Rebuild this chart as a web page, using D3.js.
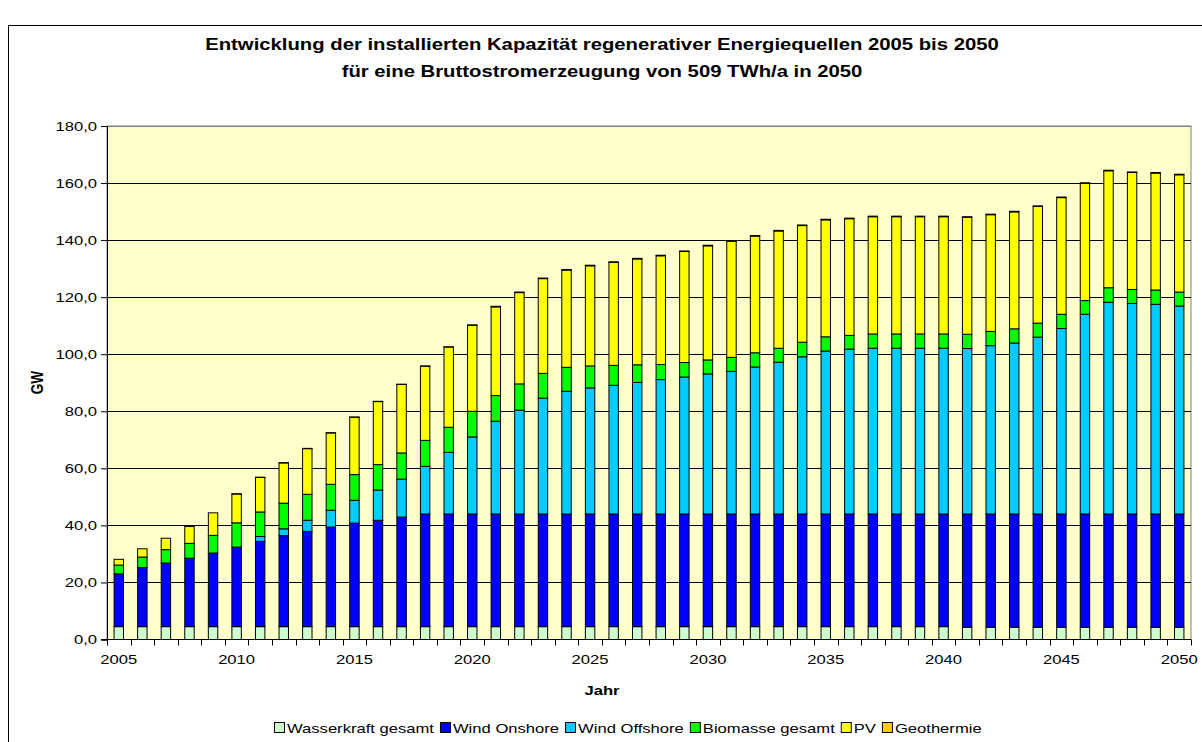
<!DOCTYPE html>
<html>
<head>
<meta charset="utf-8">
<script src="https://cdn.jsdelivr.net/npm/d3@7"></script>
<style>
  body { margin: 0; background: #fff; }
  svg { display: block; font-family: "Liberation Sans", Arial, sans-serif; }
</style>
</head>
<body>
<svg id="chart" width="1202" height="742"></svg>
<script>
// years 2005..2050
const years = d3.range(2005, 2051);

// segment values in GW
const wasserkraft = years.map((y) => (y <= 2040 ? 4.5 : 4.3));
const windOnshore = [
  18.5, 20.7, 22.3, 24.0, 25.8, 27.9, 29.9, 31.9, 33.4, 34.9,
  36.3, 37.3, 38.4, 39.5, 39.5, 39.5, 39.5, 39.5, 39.5, 39.5,
  39.5, 39.5, 39.5, 39.5, 39.5, 39.5, 39.5, 39.5, 39.5, 39.5,
  39.5, 39.5, 39.5, 39.5, 39.5, 39.5, 39.7, 39.7, 39.7, 39.7,
  39.7, 39.7, 39.7, 39.7, 39.7, 39.7
];
const windOffshore = [
  0, 0, 0, 0, 0, 0, 1.7, 2.4, 3.9, 5.9,
  8.0, 10.6, 13.3, 16.7, 21.6, 27.0, 32.5, 36.4, 40.6, 43.0,
  44.2, 45.1, 46.1, 47.1, 48.0, 49.1, 50.0, 51.5, 53.2, 55.1,
  57.1, 57.8, 58.1, 58.1, 58.1, 58.1, 58.0, 59.0, 59.9, 62.0,
  65.0, 70.0, 74.2, 73.8, 73.5, 72.9
];
const biomasse = [
  3.1, 3.7, 4.7, 5.2, 6.2, 8.5, 8.6, 9.0, 9.1, 9.1,
  9.0, 8.9, 9.2, 9.1, 8.8, 9.0, 9.0, 9.2, 8.7, 8.4,
  7.7, 7.0, 6.2, 5.3, 5.1, 4.9, 4.9, 5.0, 4.9, 5.1,
  5.0, 4.8, 5.0, 5.0, 5.0, 5.0, 5.0, 5.0, 5.0, 4.9,
  5.0, 4.8, 5.1, 4.9, 5.0, 4.9
];
const pv = [
  2.0, 2.9, 4.0, 5.9, 7.9, 10.1, 12.1, 14.1, 16.0, 18.0,
  20.1, 22.1, 24.0, 26.0, 28.1, 30.1, 31.1, 32.0, 33.2, 34.1,
  35.1, 36.1, 37.1, 38.1, 38.9, 40.0, 40.7, 40.9, 41.1, 40.9,
  41.0, 40.9, 41.1, 41.1, 41.1, 41.1, 41.0, 40.9, 41.0, 40.9,
  40.9, 41.1, 41.0, 41.0, 41.0, 41.1
];
const geothermie = years.map((y) => (y < 2010 ? 0 : y < 2020 ? 0.1 : 0.2));

const seriesNames = ["Wasserkraft gesamt", "Wind Onshore", "Wind Offshore", "Biomasse gesamt", "PV", "Geothermie"];
const seriesValues = [wasserkraft, windOnshore, windOffshore, biomasse, pv, geothermie];
const colors = ["#CCFFCC", "#0000FF", "#00CCFF", "#00FF00", "#FFFF00", "#FFCC00"];
const yTicks = d3.range(0, 181, 20);

const title1 = "Entwicklung der installierten Kapazität regenerativer Energiequellen 2005 bis 2050";
const title2 = "für eine Bruttostromerzeugung von 509 TWh/a in 2050";

// table for d3.stack
const table = years.map((y, i) => {
  const row = { year: y };
  seriesNames.forEach((n, k) => (row[n] = seriesValues[k][i]));
  return row;
});

// plot area
const PLOT_LEFT = 107, PLOT_RIGHT = 1191, PLOT_TOP = 126, PLOT_BOTTOM = 639.5;
// the original text is drawn a bit wider than Arial
const STRETCH = 1.23;

const svg = d3.select("#chart");

// stretched text helper
const addText = (parent, x, y, str, size, bold, anchor = "middle") =>
  parent.append("text")
    .attr("transform", `translate(${x},${y}) scale(${STRETCH},1)`)
    .attr("text-anchor", anchor)
    .attr("font-size", size)
    .attr("font-weight", bold ? "bold" : "normal")
    .text(str);

// outer frame (cut off at right/bottom like the original)
svg.append("rect")
  .attr("x", 8.5).attr("y", 25.5)
  .attr("width", 1210).attr("height", 740)
  .attr("fill", "#fff").attr("stroke", "#000").attr("stroke-width", 1);

// titles
addText(svg, 602, 50, title1, 16.5, true);
addText(svg, 602, 77, title2, 16.5, true);

// scales
const xScale = d3.scaleBand().domain(years).range([PLOT_LEFT, PLOT_RIGHT]).padding(0);
const yScale = d3.scaleLinear().domain([0, 180]).range([PLOT_BOTTOM, PLOT_TOP]);

// plot background
svg.append("rect")
  .attr("x", PLOT_LEFT).attr("y", PLOT_TOP)
  .attr("width", PLOT_RIGHT - PLOT_LEFT).attr("height", PLOT_BOTTOM - PLOT_TOP)
  .attr("fill", "#FFFFCC").attr("stroke", "#808080").attr("stroke-width", 1);

// gridlines
svg.append("g")
  .selectAll("line")
  .data(yTicks.filter((t) => t > 0))
  .join("line")
  .attr("x1", PLOT_LEFT).attr("x2", PLOT_RIGHT)
  .attr("y1", (d) => Math.round(yScale(d)) + 0.5)
  .attr("y2", (d) => Math.round(yScale(d)) + 0.5)
  .attr("stroke", (d) => (d === 180 ? "#808080" : "#000"))
  .attr("stroke-width", 1);

// stacked bars
const stack = d3.stack().keys(seriesNames);
const layers = stack(table);
const bw = xScale.bandwidth();

svg.append("g")
  .selectAll("g")
  .data(layers)
  .join("g")
  .attr("fill", (d, i) => colors[i])
  .selectAll("rect")
  .data((d) => d)
  .join("rect")
  .attr("x", (d) => xScale(d.data.year) + bw * 0.3)
  .attr("width", bw * 0.4)
  .attr("y", (d) => yScale(d[1]))
  .attr("height", (d) => yScale(d[0]) - yScale(d[1]))
  .attr("stroke", "#000")
  .attr("stroke-width", 1);

// y axis
const yAxis = d3.axisLeft(yScale)
  .tickValues(yTicks)
  .tickSize(6)
  .tickFormat((d) => d3.format(".1f")(d).replace(".", ","));
const gy = svg.append("g")
  .attr("transform", `translate(${PLOT_LEFT},0)`)
  .call(yAxis);
gy.select(".domain").attr("stroke", "#000");
gy.selectAll(".tick line").attr("stroke", "#000");
gy.selectAll("text")
  .attr("font-size", 13.5).attr("fill", "#000")
  .attr("font-family", "Liberation Sans, Arial, sans-serif")
  .attr("x", -10 / STRETCH)
  .attr("transform", `scale(${STRETCH},1)`);

// x axis line + ticks between categories
svg.append("line")
  .attr("x1", PLOT_LEFT - 6).attr("x2", PLOT_RIGHT)
  .attr("y1", PLOT_BOTTOM).attr("y2", PLOT_BOTTOM)
  .attr("stroke", "#000");
svg.append("g")
  .selectAll("line")
  .data(years.map((y) => xScale(y)).concat([PLOT_RIGHT]))
  .join("line")
  .attr("x1", (d) => Math.round(d) + 0.5).attr("x2", (d) => Math.round(d) + 0.5)
  .attr("y1", PLOT_BOTTOM).attr("y2", PLOT_BOTTOM + 6)
  .attr("stroke", "#000");

// x labels every 5 years
const xAxis = d3.axisBottom(xScale)
  .tickValues(years.filter((y) => (y - 2005) % 5 === 0))
  .tickSize(0)
  .tickPadding(15);
const gx = svg.append("g")
  .attr("transform", `translate(0,${PLOT_BOTTOM})`)
  .call(xAxis);
gx.select(".domain").remove();
gx.selectAll("text")
  .attr("font-size", 13.5).attr("fill", "#000")
  .attr("font-family", "Liberation Sans, Arial, sans-serif")
  .attr("transform", `scale(${STRETCH},1)`);

// axis titles
svg.append("text")
  .attr("transform", `translate(43,${(PLOT_TOP + PLOT_BOTTOM) / 2}) rotate(-90) scale(1,${STRETCH})`)
  .attr("text-anchor", "middle").attr("font-size", 13.5).attr("font-weight", "bold")
  .text("GW");
addText(svg, 602, 695, "Jahr", 13.5, true);

// legend
const legend = svg.append("g").attr("transform", "translate(274,733)");
let lx = 0;
seriesNames.forEach((name, i) => {
  const item = legend.append("g").attr("transform", `translate(${lx},0)`);
  item.append("rect")
    .attr("x", 0.5).attr("y", -10.5).attr("width", 10).attr("height", 10)
    .attr("fill", colors[i]).attr("stroke", "#000");
  const t = addText(item, 13, 0, name, 13.5, false, "start");
  lx += 13 + t.node().getComputedTextLength() * STRETCH + 6;
});
</script>
</body>
</html>
